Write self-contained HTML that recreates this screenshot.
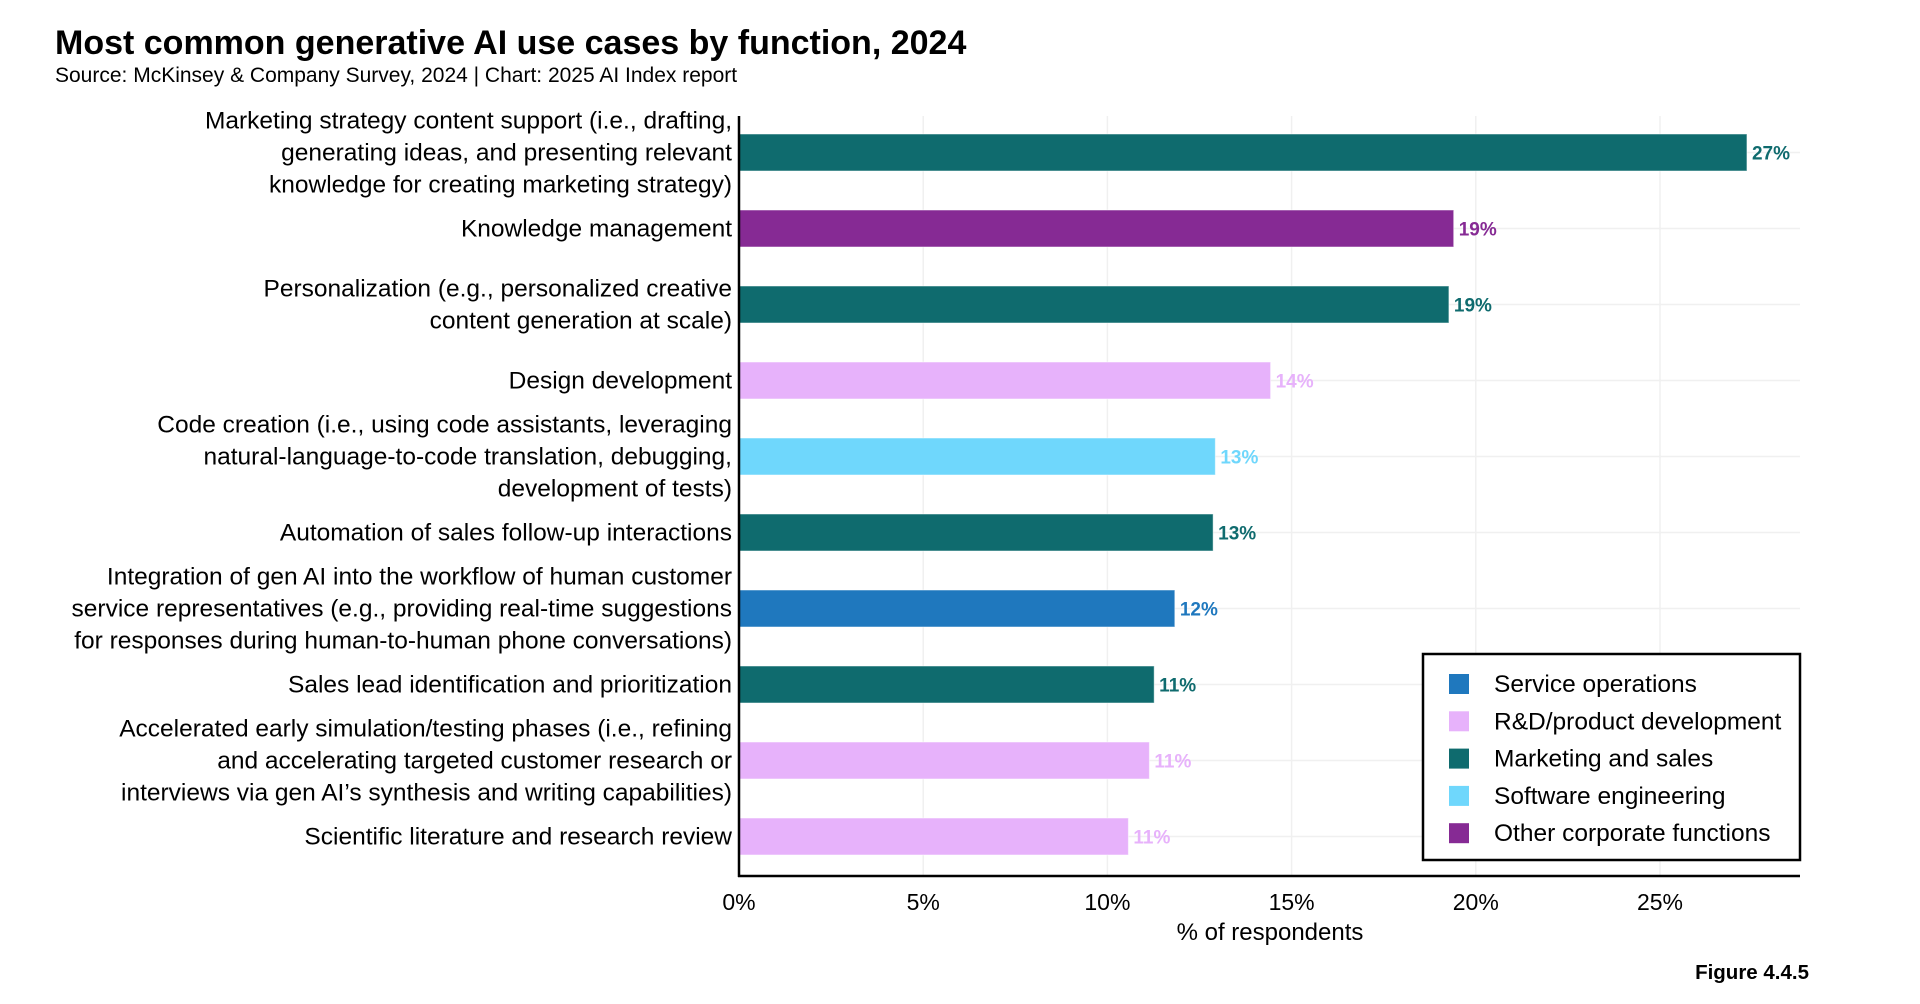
<!DOCTYPE html>
<html><head><meta charset="utf-8"><style>
html,body{margin:0;padding:0;background:#fff;}
svg{display:block;font-family:"Liberation Sans",sans-serif;}
</style></head><body>
<svg id="chart" width="1920" height="1004" viewBox="0 0 1920 1004">
<text x="55" y="54" font-size="34" font-weight="bold" fill="#000">Most common generative AI use cases by function, 2024</text>
<text x="55" y="82" font-size="21" fill="#000">Source: McKinsey &amp; Company Survey, 2024 | Chart: 2025 AI Index report</text>
<g id="grid"></g>
<g id="bars"></g>
<g id="labels"></g>
<g id="xaxis"></g>
<text x="1270" y="940" font-size="24" text-anchor="middle" fill="#000">% of respondents</text>
<text x="1809" y="979" font-size="20.5" font-weight="bold" text-anchor="end" fill="#000">Figure 4.4.5</text>
<g id="legend"></g>
</svg>
<script>
const categories = [
  ["Marketing strategy content support (i.e., drafting,","generating ideas, and presenting relevant","knowledge for creating marketing strategy)"],
  ["Knowledge management"],
  ["Personalization (e.g., personalized creative","content generation at scale)"],
  ["Design development"],
  ["Code creation (i.e., using code assistants, leveraging","natural-language-to-code translation, debugging,","development of tests)"],
  ["Automation of sales follow-up interactions"],
  ["Integration of gen AI into the workflow of human customer","service representatives (e.g., providing real-time suggestions","for responses during human-to-human phone conversations)"],
  ["Sales lead identification and prioritization"],
  ["Accelerated early simulation/testing phases (i.e., refining","and accelerating targeted customer research or","interviews via gen AI’s synthesis and writing capabilities)"],
  ["Scientific literature and research review"]
];
const values = [27.36, 19.4, 19.27, 14.43, 12.93, 12.87, 11.83, 11.27, 11.14, 10.57];
const valueLabels = ["27%","19%","19%","14%","13%","13%","12%","11%","11%","11%"];
const functions = ["Marketing and sales","Other corporate functions","Marketing and sales","R&D/product development","Software engineering","Marketing and sales","Service operations","Marketing and sales","R&D/product development","R&D/product development"];
const legendNames = ["Service operations","R&D/product development","Marketing and sales","Software engineering","Other corporate functions"];
const xTicks = [0,5,10,15,20,25];
const xTickLabels = ["0%","5%","10%","15%","20%","25%"];

const colors = {"Service operations":"#1f78be","R&D/product development":"#e7b2fb","Marketing and sales":"#0f6b6e","Software engineering":"#6fd7fc","Other corporate functions":"#862a94"};
const NS="http://www.w3.org/2000/svg";
const x0=739, pxPer=36.84, plotTop=116, plotBottom=876, plotRight=1800;
const firstCenter=152.5, pitch=76, barH=37;
const xs=v=>x0+v*pxPer;
const ys=i=>firstCenter+i*pitch;
function mk(tag,attrs,parent){const e=document.createElementNS(NS,tag);for(const k in attrs)e.setAttribute(k,attrs[k]);parent.appendChild(e);return e;}
const grid=document.getElementById('grid'),bars=document.getElementById('bars'),labels=document.getElementById('labels'),xaxis=document.getElementById('xaxis'),legend=document.getElementById('legend');

xTicks.forEach((t,i)=>{
  if(t>0){const g=mk('line',{x1:xs(t),x2:xs(t),y1:plotTop,y2:plotBottom,stroke:'#f0f0f0','stroke-width':1.5},grid);
  
  }
  const tl=mk('text',{x:xs(t),y:910,'font-size':23,'text-anchor':'middle',fill:'#000'},xaxis);
  tl.textContent=xTickLabels[i];
  
  
});
values.forEach((v,i)=>{
  const g=mk('line',{x1:x0,x2:plotRight,y1:ys(i),y2:ys(i),stroke:'#f0f0f0','stroke-width':1.5},grid);
  
  
  const c=colors[functions[i]];
  const r=mk('rect',{x:x0,y:ys(i)-barH/2,width:xs(v)-x0,height:barH,fill:c,stroke:'rgba(255,255,255,0.5)','stroke-width':1},bars);
  
  
  const t=mk('text',{x:xs(v)+5,y:ys(i)+7,'font-size':19,'font-weight':'bold',fill:c},bars);
  t.textContent=valueLabels[i];
  
  
  const lines=categories[i];
  const lh=32, start=ys(i)-(lines.length-1)*lh/2;
  lines.forEach((ln,j)=>{
    const l=mk('text',{x:732,y:start+j*lh+8,'font-size':24.5,'text-anchor':'end',fill:'#000'},labels);
    l.textContent=ln;
    
    
  });
});
const ax=mk('line',{x1:x0,x2:x0,y1:plotTop,y2:plotBottom+1,stroke:'#000','stroke-width':2.5},xaxis);


const bx=mk('line',{x1:x0-1,x2:plotRight,y1:plotBottom,y2:plotBottom,stroke:'#000','stroke-width':2.5},xaxis);



const lb=mk('rect',{x:1423,y:654,width:377,height:206,fill:'#fff',stroke:'#000','stroke-width':2.5},legend);


legendNames.forEach((n,i)=>{
  const y=684+i*37.3;
  const s=mk('rect',{x:1449,y:y-10,width:20,height:20,fill:colors[n]},legend);
  
  
  const t=mk('text',{x:1494,y:y+8,'font-size':24.5,fill:'#000'},legend);
  t.textContent=n;
  
  
});
</script>
</body></html>
